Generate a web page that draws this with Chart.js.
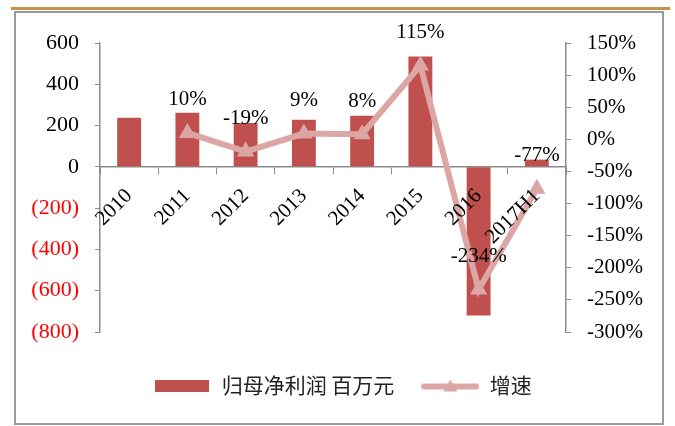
<!DOCTYPE html>
<html>
<head>
<meta charset="utf-8">
<script src="https://cdn.jsdelivr.net/npm/chart.js@4.4.0/dist/chart.umd.min.js"></script>
<style>
  body { margin: 0; background: #fff; }
  #wrap { position: relative; width: 675px; height: 426px; }
  #topLine { position: absolute; left: 11px; top: 7px; width: 659px; height: 3px; background: #c5924b; }
  #frame { position: absolute; left: 14px; top: 11px; width: 650px; height: 414px; border: 2px solid #9a9a9a; box-sizing: border-box; }
  canvas { position: absolute; left: 0; top: 0; }
</style>
</head>
<body>
<div id="wrap">
  <div id="topLine"></div>
  <div id="frame"></div>
  <canvas id="chart" width="675" height="426"></canvas>
</div>
<script>
// data
const years = ['2010', '2011', '2012', '2013', '2014', '2015', '2016', '2017H1'];
const profit = [238, 262, 213, 228, 247, 535, -720, 35];      // 归母净利润 百万元
const growth = [null, 10, -19, 9, 8, 115, -234, -77];         // 增速 %
const legendNames = ['归母净利润 百万元', '增速'];

const barColor = '#c0504d';
const lineColor = '#dca6a5';
const serif = 'Liberation Serif';

// little pictures for the legend
function barIcon() {
    const c = document.createElement('canvas');
    c.width = 54; c.height = 12;
    const g = c.getContext('2d');
    g.fillStyle = barColor;
    g.fillRect(0, 0, 54, 12);
    return c;
}
function lineIcon() {
    const c = document.createElement('canvas');
    c.width = 58; c.height = 14;
    const g = c.getContext('2d');
    g.strokeStyle = lineColor;
    g.lineWidth = 6;
    g.lineCap = 'round';
    g.beginPath(); g.moveTo(3, 8); g.lineTo(55, 8); g.stroke();
    g.fillStyle = lineColor;
    g.beginPath(); g.moveTo(29, 1); g.lineTo(36, 13); g.lineTo(22, 13); g.closePath(); g.fill();
    return c;
}

// percent labels above the line points
const pointLabels = {
    id: 'pointLabels',
    afterDraw(chart) {
        const meta = chart.getDatasetMeta(0);
        const ctx = chart.ctx;
        ctx.save();
        ctx.font = '21px "' + serif + '"';
        ctx.fillStyle = '#000';
        ctx.textAlign = 'center';
        ctx.textBaseline = 'middle';
        meta.data.forEach((pt, i) => {
            if (growth[i] === null) return;
            ctx.fillText(growth[i] + '%', pt.x, pt.y - 33);
        });
        ctx.restore();
    }
};

new Chart(document.getElementById('chart'), {
    data: {
        labels: years,
        datasets: [
            {
                type: 'line',
                label: legendNames[1],
                data: growth,
                yAxisID: 'y1',
                borderColor: lineColor,
                backgroundColor: lineColor,
                borderWidth: 6,
                tension: 0,
                pointStyle: 'triangle',
                pointRadius: 10,
                pointBorderWidth: 0,
                pointBackgroundColor: lineColor
            },
            {
                type: 'bar',
                label: legendNames[0],
                data: profit,
                yAxisID: 'y',
                backgroundColor: barColor,
                barPercentage: 0.41,
                categoryPercentage: 1
            }
        ]
    },
    options: {
        responsive: false,
        animation: false,
        layout: { padding: { top: 43, left: 10, right: 0, bottom: 20 } },
        plugins: {
            tooltip: { enabled: false },
            legend: {
                position: 'bottom',
                title: { display: true, text: '', padding: 2, font: { size: 10 } },
                labels: {
                    usePointStyle: true,
                    pointStyleWidth: 58,
                    padding: 27,
                    color: '#222',
                    font: { family: 'Noto Sans CJK SC', size: 21 },
                    generateLabels: () => [
                        { text: legendNames[0], pointStyle: barIcon(), datasetIndex: 1, fontColor: '#222', lineWidth: 0 },
                        { text: legendNames[1], pointStyle: lineIcon(), datasetIndex: 0, fontColor: '#222', lineWidth: 0 }
                    ]
                }
            }
        },
        scales: {
            x: {
                position: { y: 0 },
                offset: true,
                grid: { drawOnChartArea: false, drawTicks: true, tickLength: 7, color: '#8c8c8c', offset: true },
                border: { color: '#8c8c8c', width: 1.5 },
                ticks: {
                    z: 1,
                    color: '#000',
                    maxRotation: 45,
                    minRotation: 45,
                    padding: 10,
                    font: { family: serif, size: 21 }
                }
            },
            y: {
                position: 'left',
                min: -800,
                max: 600,
                afterFit: s => { s.width = 90; },
                grid: { drawOnChartArea: false, drawTicks: true, tickLength: 5, color: '#8c8c8c' },
                border: { color: '#8c8c8c', width: 1.5 },
                ticks: {
                    stepSize: 200,
                    padding: 16,
                    font: { family: serif, size: 22 },
                    color: c => c.tick.value < 0 ? '#ff0000' : '#000',
                    callback: v => v < 0 ? '(' + Math.abs(v) + ')' : String(v)
                }
            },
            y1: {
                position: 'right',
                min: -300,
                max: 150,
                afterFit: s => { s.width = 109; },
                grid: { drawOnChartArea: false, drawTicks: true, tickLength: 5, color: '#8c8c8c' },
                border: { color: '#8c8c8c', width: 1.5 },
                ticks: {
                    stepSize: 50,
                    padding: 16,
                    color: '#000',
                    font: { family: serif, size: 21 },
                    callback: v => v + '%'
                }
            }
        }
    },
    plugins: [pointLabels]
});
</script>
</body>
</html>
